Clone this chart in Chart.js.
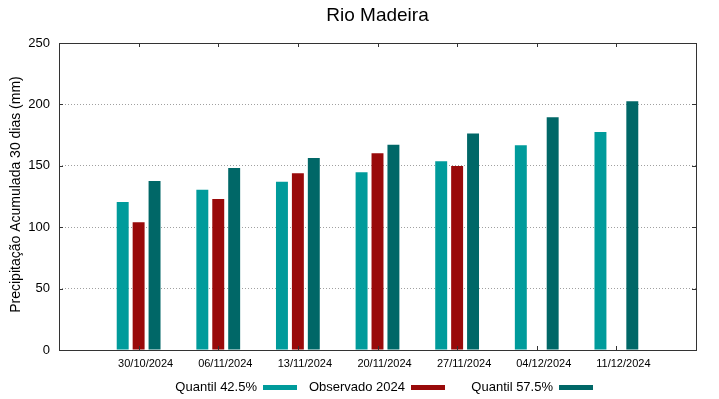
<!DOCTYPE html>
<html>
<head>
<meta charset="utf-8">
<script src="https://cdn.jsdelivr.net/npm/chart.js@4.4.1/dist/chart.umd.min.js"></script>
<style>
  html, body { margin: 0; padding: 0; background: #fff; }
  #box { width: 719px; height: 399px; }
</style>
</head>
<body>
<div id="box"><canvas id="grafico" width="719" height="399"></canvas></div>
<script>
// Dados
const datas = ['30/10/2024', '06/11/2024', '13/11/2024', '20/11/2024', '27/11/2024', '04/12/2024', '11/12/2024'];
const quantil425 = [120.5, 130.5, 137, 144.8, 153.7, 166.8, 177.5];
const observado2024 = [104, 123, 144, 160.2, 149.8, null, null];
const quantil575 = [137.6, 148.3, 156.4, 167.2, 176.4, 189.5, 202.5];
const yTicks = [0, 50, 100, 150, 200, 250];

const fonte = '"Liberation Sans", Arial, sans-serif';

// eixo vai de -1 a 7: categorias vazias nas pontas
const rotulos = [''].concat(datas, ['']);
const comBorda = arr => [null].concat(arr, [null]);

// Plugin para desenhar moldura, marcas, título e legenda no estilo gnuplot
const estiloGnuplot = {
    id: 'estiloGnuplot',
    afterDraw(chart) {
        const ctx = chart.ctx;
        const area = chart.chartArea;
        const x = chart.scales.x;
        const y = chart.scales.y;
        ctx.save();

        // moldura
        ctx.strokeStyle = '#333';
        ctx.lineWidth = 1;
        ctx.setLineDash([]);
        ctx.strokeRect(Math.round(area.left) + 0.5, Math.round(area.top) + 0.5,
            Math.round(area.right - area.left), Math.round(area.bottom - area.top));

        // marcas internas
        ctx.beginPath();
        yTicks.forEach(v => {
            const py = Math.round(y.getPixelForValue(v)) + 0.5;
            ctx.moveTo(area.left, py); ctx.lineTo(area.left + 4, py);
            ctx.moveTo(area.right, py); ctx.lineTo(area.right - 4, py);
        });
        datas.forEach((d, i) => {
            const px = Math.round(x.getPixelForValue(i + 1)) + 0.5;
            ctx.moveTo(px, area.bottom); ctx.lineTo(px, area.bottom - 4);
            ctx.moveTo(px, area.top); ctx.lineTo(px, area.top + 4);
        });
        ctx.stroke();

        // título
        ctx.fillStyle = '#000';
        ctx.font = '19px ' + fonte;
        ctx.textAlign = 'center';
        ctx.textBaseline = 'middle';
        ctx.fillText('Rio Madeira', (area.left + area.right) / 2, 16);

        // título do eixo y
        ctx.save();
        ctx.translate(16, (area.top + area.bottom) / 2 - 2);
        ctx.rotate(-Math.PI / 2);
        ctx.font = '14px ' + fonte;
        ctx.fillText('Precipitação Acumulada 30 dias (mm)', 0, 0);
        ctx.restore();

        // legenda: texto e depois a amostra
        ctx.font = '13px ' + fonte;
        ctx.textAlign = 'right';
        chart.data.datasets.forEach((ds, i) => {
            const sx = 263 + i * 148;
            ctx.fillStyle = '#000';
            ctx.fillText(ds.label, sx - 6, 387);
            ctx.fillStyle = ds.backgroundColor;
            ctx.fillRect(sx, 385, 34, 5);
        });

        ctx.restore();
    }
};

const ctx = document.getElementById('grafico').getContext('2d');
const grafico = new Chart(ctx, {
    type: 'bar',
    data: {
        labels: rotulos,
        datasets: [
            { label: 'Quantil 42.5%', data: comBorda(quantil425), backgroundColor: '#009b9b' },
            { label: 'Observado 2024', data: comBorda(observado2024), backgroundColor: '#990a0a' },
            { label: 'Quantil 57.5%', data: comBorda(quantil575), backgroundColor: '#006767' }
        ]
    },
    options: {
        responsive: false,
        animation: false,
        categoryPercentage: 0.6,
        barPercentage: 0.75,
        layout: { padding: { left: 0, right: 23, top: 43, bottom: 0 } },
        plugins: {
            legend: { display: false },
            title: { display: false },
            tooltip: { enabled: false }
        },
        scales: {
            x: {
                offset: false,
                grid: { display: false, drawTicks: false },
                border: { display: false },
                ticks: {
                    autoSkip: false,
                    maxRotation: 0,
                    padding: 7,
                    labelOffset: 7,
                    color: '#000',
                    font: { family: fonte, size: 11 }
                },
                afterFit(scale) { scale.height = 49; }
            },
            y: {
                min: 0,
                max: 250,
                grid: { color: '#a0a0a0', lineWidth: 1, drawTicks: false },
                border: { display: false, dash: [1, 2] },
                ticks: {
                    stepSize: 50,
                    padding: 9,
                    color: '#000',
                    font: { family: fonte, size: 13 }
                },
                afterFit(scale) { scale.width = 59; }
            }
        }
    },
    plugins: [estiloGnuplot]
});
</script>
</body>
</html>
